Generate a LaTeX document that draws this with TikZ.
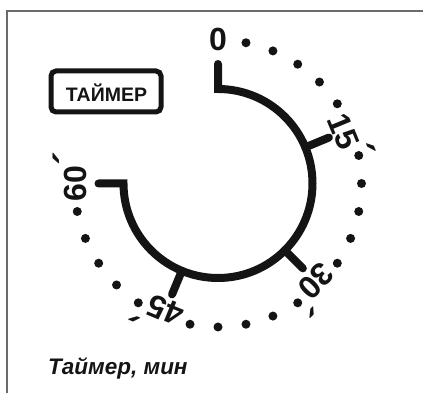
\documentclass[tikz,border=0pt]{standalone}
\usepackage{fontspec}
\setmainfont{Liberation Sans}
\usetikzlibrary{calc}
\colorlet{ink}{black!92}
\tikzset{
  frameline/.style={draw=black!58, line width=2pt},
  dialline/.style={draw=ink, line width=8pt, line cap=round, line join=miter},
  tickline/.style={draw=ink, line width=8pt, line cap=round},
  dialdot/.style={circle, fill=ink, inner sep=0pt, minimum size=9pt},
  numlabel/.style={font=\fontsize{32}{32}\selectfont\bfseries, inner sep=0pt, text=ink},
  boxframe/.style={draw=ink, line width=5pt, rounded corners=5pt, minimum width=110pt, minimum height=41pt, inner sep=0pt},
  boxtext/.style={font=\fontsize{19.5}{19.5}\selectfont\bfseries, inner sep=0pt, text=ink},
  captiontext/.style={font=\fontsize{22.5}{22.5}\selectfont\bfseries\itshape, inner sep=0pt, text=ink}
}
\newcommand{\mnmark}{\rlap{\kern0.02em\raisebox{0.1em}{\scalebox{1.3}{´}}}}
\begin{document}
\begin{tikzpicture}[x=1pt,y=1pt]
\useasboundingbox (0,0) rectangle (423,393);
% frame
\coordinate (TR) at (423,382);
\coordinate (TL) at (7,382);
\coordinate (BL) at (7,0);
\draw[frameline] (TR) -- (TL) -- (BL);
% dial
\coordinate (C) at (218,209.5);
\coordinate (s60) at ($(C)+(180:119.5)$);
\coordinate (a60) at ($(C)+(180:94.5)$);
\coordinate (s0) at ($(C)+(90:119.5)$);
\draw[dialline] (s60) -- (a60) arc[start angle=180, end angle=450, radius=94.5] -- (s0);
\foreach \a/\n in {22.5/15, -45/30, -112.5/45} {
  \coordinate (ti\n) at ($(C)+(\a:94.5)$);
  \coordinate (to\n) at ($(C)+(\a:120)$);
  \draw[tickline] (ti\n) -- (to\n);
}
% dots
\foreach \k in {1,...,23} {
  \pgfmathtruncatemacro\m{mod(\k,6)}
  \ifnum\m>0
    \node[dialdot] (d\k) at ($(C)+({90-11.25*\k}:143.5)$) {};
  \fi
}
% labels
\node[numlabel] (l0) at ($(C)+(90:144)$) {0};
\node[numlabel, rotate=-67.5] (l15) at ($(C)+(22.5:142)$) {15\mnmark};
\node[numlabel, rotate=-135] (l30) at ($(C)+(-45:144)$) {30\mnmark};
\node[numlabel, rotate=-202.5] (l45) at ($(C)+(-112.5:143)$) {45\mnmark};
\node[numlabel, rotate=-270] (l60) at ($(C)+(180:148)$) {60\mnmark};
% timer box
\node[boxframe] (tbox) at (106,301.5) {};
\node[boxtext, anchor=base] (ttext) at (106.5,291.3) {ТАЙМЕР};
% caption
\node[captiontext, anchor=base west] (cap) at (48,18) {Таймер, мин};
\end{tikzpicture}
\end{document}
